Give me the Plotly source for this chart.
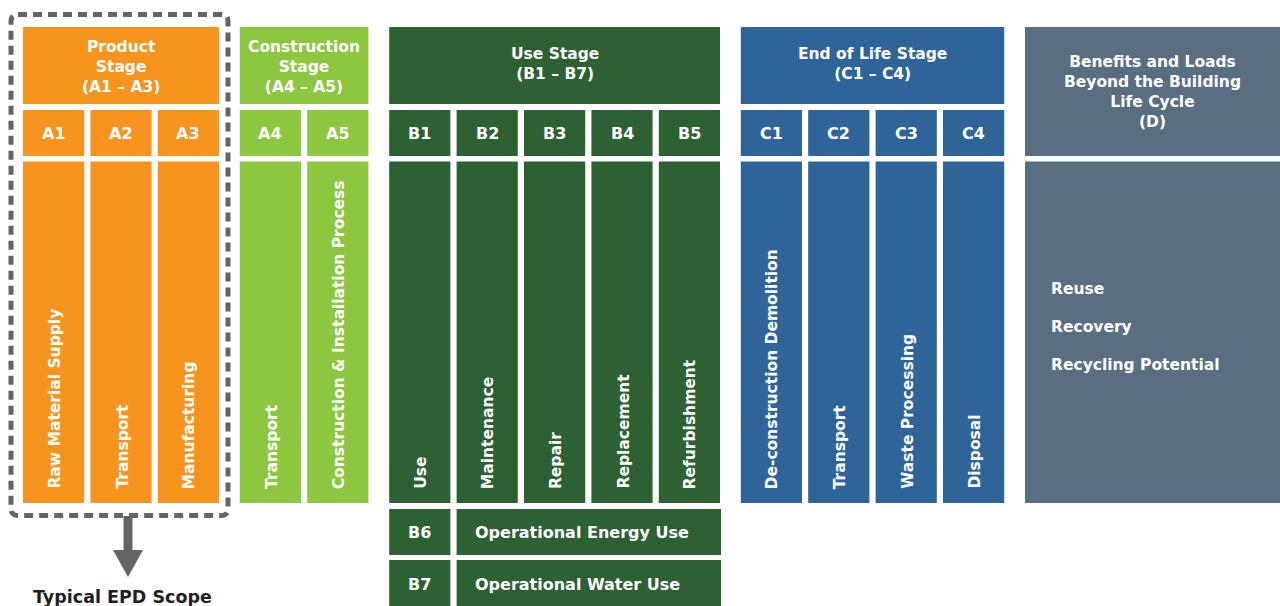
import plotly.graph_objects as go

# ---------------- data ----------------
stage_titles = [
    "Product<br>Stage<br>(A1 – A3)",
    "Construction<br>Stage<br>(A4 – A5)",
    "Use Stage<br>(B1 – B7)",
    "End of Life Stage<br>(C1 – C4)",
]
stage_colors = ["#F7941D", "#8DC63F", "#2D6033", "#2F6499"]

module_codes = ["A1", "A2", "A3", "A4", "A5", "B1", "B2", "B3", "B4", "B5",
                "C1", "C2", "C3", "C4"]
module_labels = ["Raw Material Supply", "Transport", "Manufacturing",
                 "Transport", "Construction & Installation Process",
                 "Use", "Maintenance", "Repair", "Replacement", "Refurbishment",
                 "De-construction Demolition", "Transport", "Waste Processing",
                 "Disposal"]
module_stage = [0, 0, 0, 1, 1, 2, 2, 2, 2, 2, 3, 3, 3, 3]

operational_codes = ["B6", "B7"]
operational_labels = ["Operational Energy Use", "Operational Water Use"]

d_title = "Benefits and Loads<br>Beyond the Building<br>Life Cycle<br>(D)"
d_color = "#5A6E82"
d_items = ["Reuse", "Recovery", "Recycling Potential"]

scope_label = "Typical EPD Scope"
scope_color = "#646464"

# ---------------- geometry ----------------
W, H = 1280, 606
X0 = 23
COL_W = 61.2
PITCH = 67.4
STAGE_GAP = 20.8
HDR_Y = (27, 104)
MOD_Y = (110, 156)
BODY_Y = (161.5, 503)
OP_ROWS = [(509, 555), (560, 612)]
FONT = "DejaVu Sans"

shapes = []
annotations = []


def rect(x0, y0, x1, y1, color):
    shapes.append(dict(type="rect", xref="x", yref="y", x0=x0, x1=x1, y0=y0, y1=y1,
                       fillcolor=color, line=dict(width=0), layer="below"))


def text(x, y, s, size=16, color="white", xanchor="center", yanchor="middle", angle=0):
    annotations.append(dict(x=x, y=y, xref="x", yref="y", text=s, showarrow=False,
                            xanchor=xanchor, yanchor=yanchor, textangle=angle,
                            align="center" if xanchor == "center" else "left",
                            font=dict(family=FONT, size=size, color=color, weight="bold")))


# column x positions
col_x = []
prev_stage = module_stage[0]
for i, st in enumerate(module_stage):
    if i == 0:
        x = X0
    elif st != prev_stage:
        x = col_x[-1] + COL_W + STAGE_GAP
    else:
        x = col_x[-1] + PITCH
    col_x.append(x)
    prev_stage = st

# stage headers
stage_extent = {}
for i, st in enumerate(module_stage):
    lo, hi = stage_extent.get(st, (1e9, -1e9))
    stage_extent[st] = (min(lo, col_x[i]), max(hi, col_x[i] + COL_W))

for st, (lo, hi) in stage_extent.items():
    n_lines = stage_titles[st].count("<br>") + 1
    rect(lo, HDR_Y[0], hi, HDR_Y[1], stage_colors[st])
    text((lo + hi) / 2, (HDR_Y[0] + HDR_Y[1]) / 2 + 3 * (n_lines - 2) - 2,
         stage_titles[st], size=15.5)

# modules
for i, code in enumerate(module_codes):
    c = stage_colors[module_stage[i]]
    x0 = col_x[i]
    rect(x0, MOD_Y[0], x0 + COL_W, MOD_Y[1], c)
    text(x0 + COL_W / 2, (MOD_Y[0] + MOD_Y[1]) / 2, code, size=16)
    rect(x0, BODY_Y[0], x0 + COL_W, BODY_Y[1], c)
    text(x0 + COL_W / 2 + 1, BODY_Y[1] - 12, module_labels[i], size=15.5,
         yanchor="bottom", angle=-90)

# operational rows (B6, B7)
use_cols = [col_x[i] for i, s in enumerate(module_stage) if s == 2]
use_lo, use_hi = stage_extent[2]
for code, lab, (y0, y1) in zip(operational_codes, operational_labels, OP_ROWS):
    yc = (y0 + min(y1, H)) / 2 + (1 if y1 > H else 0)
    rect(use_cols[0], y0, use_cols[0] + COL_W, y1, stage_colors[2])
    text(use_cols[0] + COL_W / 2, yc, code, size=16)
    rect(use_cols[1], y0, use_hi + 1, y1, stage_colors[2])
    text(use_cols[1] + 16, yc, lab, size=16, xanchor="left")

# module D
d_lo = stage_extent[3][1] + STAGE_GAP
rect(d_lo, HDR_Y[0], W + 5, MOD_Y[1], d_color)
text((d_lo + W) / 2, (HDR_Y[0] + MOD_Y[1]) / 2, d_title, size=15.5)
rect(d_lo, BODY_Y[0], W + 5, BODY_Y[1], d_color)
for k, item in enumerate(d_items):
    text(d_lo + 24, 289 + 38 * k, item, size=15.5, xanchor="left")

# EPD scope dashed frame
p_lo, p_hi = stage_extent[0]
bx0, bx1, by0, by1, r = p_lo - 12, p_hi + 9, 14.5, 515.5, 7
frame = (f"M {bx0 + r},{by0} L {bx1 - r},{by0} Q {bx1},{by0} {bx1},{by0 + r} "
         f"L {bx1},{by1 - r} Q {bx1},{by1} {bx1 - r},{by1} L {bx0 + r},{by1} "
         f"Q {bx0},{by1} {bx0},{by1 - r} L {bx0},{by0 + r} Q {bx0},{by0} {bx0 + r},{by0} Z")
shapes.append(dict(type="path", xref="x", yref="y", path=frame,
                   line=dict(color=scope_color, width=5, dash="9px,6px"),
                   fillcolor="rgba(0,0,0,0)", layer="above"))

# arrow
ax = (bx0 + bx1) / 2 + 8.5
shapes.append(dict(type="rect", xref="x", yref="y", x0=ax - 4.5, x1=ax + 4.5, y0=516, y1=551,
                   fillcolor=scope_color, line=dict(width=0)))
shapes.append(dict(type="path", xref="x", yref="y",
                   path=f"M {ax - 15},550 L {ax + 15},550 L {ax},577 Z",
                   fillcolor=scope_color, line=dict(width=0)))
text((bx0 + bx1) / 2 + 3, 597, scope_label, size=17.5, color="#231F20")

fig = go.Figure()
fig.update_layout(
    width=W, height=H, margin=dict(l=0, r=0, t=0, b=0),
    paper_bgcolor="white", plot_bgcolor="white",
    xaxis=dict(range=[0, W], visible=False, fixedrange=True),
    yaxis=dict(range=[H, 0], visible=False, fixedrange=True),
    shapes=shapes, annotations=annotations, showlegend=False,
)
fig.write_html("out.html", config={"displayModeBar": False},
               post_script="document.body.style.margin='0';document.body.style.overflow='hidden';")
